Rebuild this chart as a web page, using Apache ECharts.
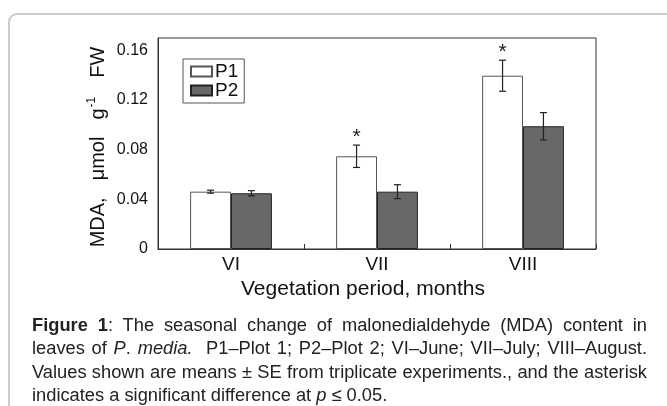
<!DOCTYPE html>
<html>
<head>
<meta charset="utf-8">
<script src="https://cdn.jsdelivr.net/npm/echarts@6/dist/echarts.min.js"></script>
<style>
  html, body { margin: 0; padding: 0; background: #fff; }
  #wrap { position: relative; width: 667px; height: 406px; overflow: hidden; }
  #chart { position: absolute; left: 0; top: 0; width: 667px; height: 406px; }
  #caption {
    position: absolute; left: 32px; top: 313px; width: 615px;
    font-family: 'Liberation Sans', Arial, sans-serif; font-size: 18.3px;
    line-height: 23.4px; color: #222;
  }
  #caption .j { text-align: justify; text-align-last: justify; white-space: nowrap; }
  #caption .l { white-space: nowrap; }
</style>
</head>
<body>
<div id="wrap">
  <div id="chart"></div>
  <div id="caption">
    <div class="j"><b>Figure 1</b>: The seasonal change of malonedialdehyde (MDA) content in</div>
    <div class="j">leaves of <i>P</i>. <i>media.</i>&nbsp; P1–Plot 1; P2–Plot 2; VI–June; VII–July; VIII–August.</div>
    <div class="j">Values shown are means ± SE from triplicate experiments., and the asterisk</div>
    <div class="l">indicates a significant difference at <i>p</i> ≤ 0.05.</div>
  </div>
</div>
<script>
// data
var months = ['VI', 'VII', 'VIII'];
var p1 = [0.0462, 0.0747, 0.1396];
var p2 = [0.0449, 0.0462, 0.0989];
var p1Err = [0.0012, 0.009, 0.0125];
var p2Err = [0.0021, 0.0056, 0.011];
var p1Sig = [false, true, true];
var yTicks = [0, 0.04, 0.08, 0.12, 0.16];

var chart = echarts.init(document.getElementById('chart'));
var font = 'Liberation Sans, Arial, sans-serif';
var offset = 0.14; // bar centre offset, fraction of band

function errRows(vals, errs, side, sig) {
  return vals.map(function (v, i) {
    return [i, v, errs[i], side, sig && sig[i] ? 1 : 0];
  });
}

function renderErr(params, api) {
  var i = api.value(0), v = api.value(1), e = api.value(2), side = api.value(3);
  var band = api.size([1, 0])[0];
  var x = api.coord([i, 0])[0] + side * band * offset;
  var yTop = api.coord([i, v + e])[1];
  var yBot = api.coord([i, v - e])[1];
  var cap = 3.5;
  var st = { stroke: '#222', lineWidth: 1.2 };
  var kids = [
    { type: 'line', shape: { x1: x, y1: yTop, x2: x, y2: yBot }, style: st },
    { type: 'line', shape: { x1: x - cap, y1: yTop, x2: x + cap, y2: yTop }, style: st },
    { type: 'line', shape: { x1: x - cap, y1: yBot, x2: x + cap, y2: yBot }, style: st }
  ];
  if (api.value(4)) {
    kids.push({
      type: 'text',
      style: { text: '*', x: x, y: yTop - 8, fontSize: 21, fontFamily: font,
               fill: '#222', align: 'center', verticalAlign: 'middle' }
    });
  }
  return { type: 'group', children: kids };
}

// y axis title, drawn rotated so the superscript can be set
var yTitle = {
  type: 'text', x: 98, y: 147, rotation: Math.PI / 2, silent: true,
  style: {
    text: '{w|MDA,}{w|μmol}{g|g}{sup|-1}{e|FW}',
    align: 'center', verticalAlign: 'middle',
    font: '20px ' + font, fill: '#111',
    rich: {
      w: { fontSize: 20, lineHeight: 24, fontFamily: font, fill: '#111', padding: [0, 17, 0, 0] },
      g: { fontSize: 20, lineHeight: 24, fontFamily: font, fill: '#111' },
      e: { fontSize: 20, lineHeight: 24, fontFamily: font, fill: '#111' },
      sup: { fontSize: 12, lineHeight: 24, verticalAlign: 'top', fontFamily: font, fill: '#111', padding: [0, 19, 10, 1] }
    }
  }
};

chart.setOption({
  animation: false,
  graphic: [{
    type: 'rect', z: -10, silent: true,
    shape: { x: 9, y: 14, width: 665, height: 500, r: 8 },
    style: { fill: 'none', stroke: '#ccc', lineWidth: 2 }
  }, yTitle],
  grid: { left: 158, right: 71, top: 38, bottom: 157, show: true,
          borderColor: '#333', borderWidth: 1 },
  legend: {
    orient: 'vertical', left: 183, top: 59,
    padding: [3, 6, 3, 7], itemGap: 0,
    itemWidth: 21, itemHeight: 10, icon: 'rect',
    borderColor: '#555', borderWidth: 1, backgroundColor: '#fff',
    textStyle: { fontSize: 19, lineHeight: 19, fontFamily: font, color: '#111', padding: [0, 0, 0, -2] },
    data: ['P1', 'P2']
  },
  xAxis: {
    type: 'category', data: months,
    name: 'Vegetation period, months', nameLocation: 'middle', nameGap: 26,
    nameTextStyle: { fontSize: 21, fontFamily: font, color: '#111', padding: [0, 28, 0, 0] },
    axisLine: { lineStyle: { color: '#333' } },
    axisTick: { show: true, inside: true, length: 5, lineStyle: { color: '#333' } },
    axisLabel: { fontSize: 19, fontFamily: font, color: '#111', margin: 6 }
  },
  yAxis: {
    type: 'value', min: 0, max: 0.17, interval: 0.04,
    axisLine: { show: true, lineStyle: { color: '#333' } },
    axisTick: { show: false },
    splitLine: { show: false },
    axisLabel: {
      fontSize: 16, fontFamily: font, color: '#111', margin: 10, showMaxLabel: false,
      formatter: function (v) {
        for (var k = 0; k < yTicks.length; k++) {
          if (Math.abs(v - yTicks[k]) < 1e-6) return String(yTicks[k]);
        }
        return '';
      }
    }
  },
  series: [
    { name: 'P1', type: 'bar', data: p1, barWidth: '28%', barGap: '0%',
      itemStyle: { color: '#fff', borderColor: '#555', borderWidth: 1 } },
    { name: 'P2', type: 'bar', data: p2, barWidth: '28%', barGap: '0%',
      itemStyle: { color: '#686868', borderColor: '#222', borderWidth: 1 } },
    { type: 'custom', renderItem: renderErr, data: errRows(p1, p1Err, -1, p1Sig), z: 5 },
    { type: 'custom', renderItem: renderErr, data: errRows(p2, p2Err, 1, null), z: 5 }
  ]
});
</script>
</body>
</html>
